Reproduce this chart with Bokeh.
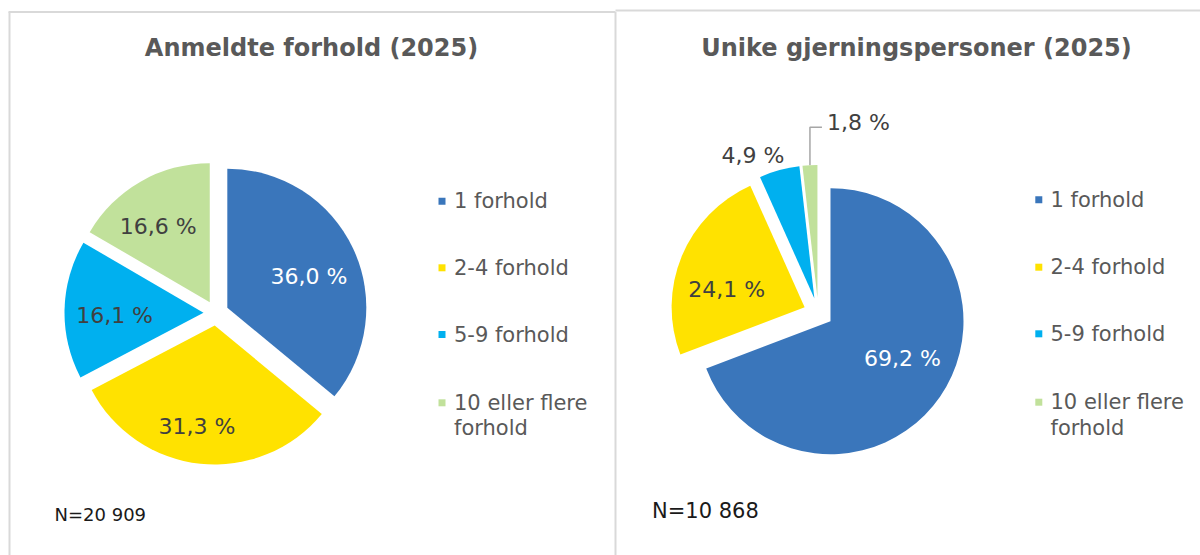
import math
import textwrap
from bokeh.plotting import figure
from bokeh.models import Range1d
from bokeh.core.properties import value
from bokeh.embed import file_html
from bokeh.resources import INLINE

# ---------------- data ----------------
categories = ["1 forhold", "2-4 forhold", "5-9 forhold", "10 eller flere forhold"]
left_title = "Anmeldte forhold (2025)"
right_title = "Unike gjerningspersoner (2025)"
left_values = [36.0, 31.3, 16.1, 16.6]
right_values = [69.2, 24.1, 4.9, 1.8]
left_n = "N=20 909"
right_n = "N=10 868"

# ---------------- style ----------------
colors = ["#3A76BB", "#FFE200", "#00B0EF", "#C1E19B"]
label_colors = ["#FFFFFF", "#404040", "#404040", "#404040"]
FONT = value("DejaVu Sans")
GRID = "#D9D9D9"
TXT = "#595959"

W, H = 1200, 555
PAGE_H = 555


def Y(y):
    return PAGE_H - y


p = figure(width=W, height=H,
           x_range=Range1d(0, W),
           y_range=Range1d(0, H),
           output_backend="svg", toolbar_location=None, min_border=0,
           x_axis_location=None, y_axis_location=None,
           outline_line_color=None,
           background_fill_color="white", border_fill_color="white")
p.xgrid.visible = False
p.ygrid.visible = False

# panel borders
p.segment(x0=[8, 9, 615, 615], y0=[Y(11.5), Y(11.5), Y(11.5), Y(10)],
          x1=[615, 9, 615, 1200], y1=[Y(11.5), Y(555), Y(555), Y(10)],
          line_color=GRID, line_width=2)


def fmt(v):
    return f"{v:.1f}".replace(".", ",") + " %"


def draw_pie(vals, cx, cy, r, d, specs):
    total = sum(vals)
    start = 0.0
    xs, ys, sa, ea = [], [], [], []
    lx, ly, ltxt, lcol, lalign = [], [], [], [], []
    for i, v in enumerate(vals):
        a0 = start / total * 360.0
        a1 = (start + v) / total * 360.0
        start += v
        mid = (a0 + a1) / 2.0
        dx, dy = math.sin(math.radians(mid)), -math.cos(math.radians(mid))
        vx, vy = cx + d * dx, cy + d * dy
        xs.append(vx)
        ys.append(Y(vy))
        sa.append(math.radians(90 - a1))
        ea.append(math.radians(90 - a0))
        spec = specs[i]
        if spec[0] == "leader":
            rise, run, gap = spec[1], spec[2], spec[3]
            ox_, oy_ = vx + r * dx, vy + r * dy
            p.line(x=[ox_, ox_, ox_ + run], y=[Y(oy_), Y(oy_ - rise), Y(oy_ - rise)],
                   line_color="#A6A6A6", line_width=1.5)
            lx.append(ox_ + run + gap)
            ly.append(Y(oy_ - rise - 5))
            lalign.append("left")
        else:
            ang = mid + spec[1]
            f = spec[2]
            ddx, ddy = math.sin(math.radians(ang)), -math.cos(math.radians(ang))
            lx.append(vx + f * r * ddx)
            ly.append(Y(vy + f * r * ddy))
            lalign.append("center")
        ltxt.append(fmt(v))
        lcol.append(label_colors[i])
    p.wedge(x=xs, y=ys, radius=r, start_angle=sa, end_angle=ea,
            direction="anticlock", fill_color=colors, line_color=None)
    for i in range(len(vals)):
        p.text(x=[lx[i]], y=[ly[i]], text=[ltxt[i]], text_color=lcol[i],
               text_font=FONT, text_font_size="22px", text_align=lalign[i],
               text_baseline="middle")


draw_pie(left_values, 215.5, 312.5, 139, 12.5,
         [("in", 4, 0.63), ("in", 4, 0.74), ("in", -3, 0.64), ("in", -4.4, 0.66)])
draw_pie(right_values, 817.8, 312.3, 133, 14.8,
         [("in", -7, 0.61), ("in", -10, 0.60), ("in", -8, 1.17), ("leader", 38, 12, 5)])

# titles
p.text(x=[311, 916], y=[Y(47), Y(47)], text=[left_title, right_title],
       text_color=TXT, text_font=FONT, text_font_size="24px",
       text_font_style="bold", text_align="center", text_baseline="middle")


def draw_legend(mx, tx, ys_):
    for i, cat in enumerate(categories):
        lines = textwrap.wrap(cat, 14)
        p.scatter(x=[mx], y=[Y(ys_[i])], marker="square", size=7,
                  fill_color=colors[i], line_color=None)
        for j, ln in enumerate(lines):
            p.text(x=[tx], y=[Y(ys_[i] + j * 25.5)], text=[ln], text_color=TXT,
                   text_font=FONT, text_font_size="21px", text_align="left",
                   text_baseline="middle")


draw_legend(441.5, 453.5, [200.7, 267.3, 334, 402.3])
draw_legend(1038.3, 1050, [199.3, 266.7, 333.3, 401.7])

# N labels
p.text(x=[54], y=[Y(514)], text=[left_n], text_color="#1A1A1A", text_font=FONT,
       text_font_size="18px", text_align="left", text_baseline="middle")
p.text(x=[651.5], y=[Y(510.7)], text=[right_n], text_color="#1A1A1A", text_font=FONT,
       text_font_size="21px", text_align="left", text_baseline="middle")

open("out.html", "w").write(file_html(p, INLINE))
